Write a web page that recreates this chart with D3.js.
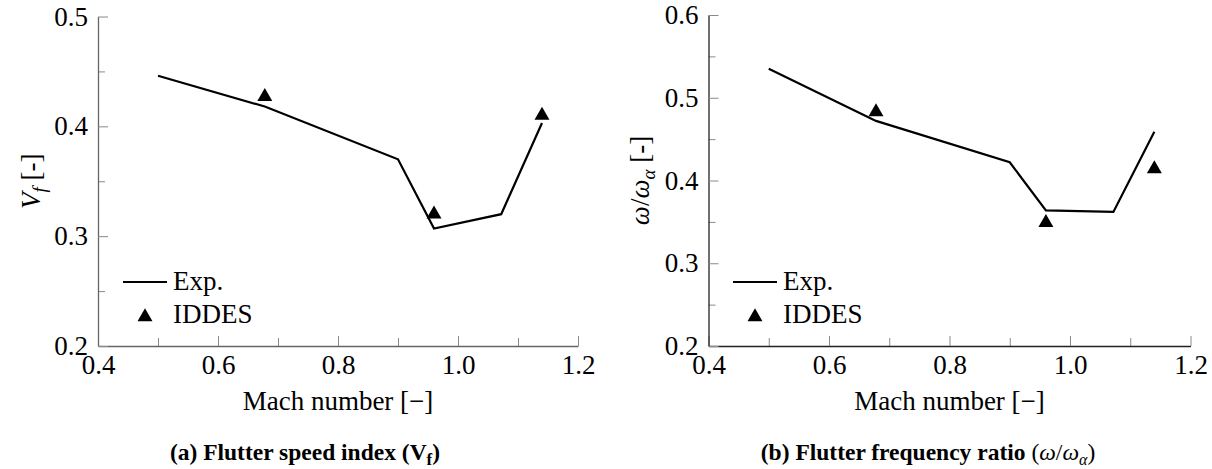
<!DOCTYPE html>
<html>
<head>
<meta charset="utf-8">
<script src="https://cdn.jsdelivr.net/npm/d3@7"></script>
<style>
  body { margin: 0; background: #fff; }
  svg { display: block; }
</style>
</head>
<body>
<div id="chart"></div>
<script>
// Mach numbers of the experiment and of the IDDES runs
var machExp = [0.5, 0.678, 0.9, 0.96, 1.072, 1.14];
var machIddes = [0.678, 0.96, 1.14];

// (a) flutter speed index
var vfExp = [0.446, 0.418, 0.370, 0.307, 0.320, 0.403];
var vfIddes = [0.427, 0.320, 0.410];

// (b) flutter frequency ratio
var freqExp = [0.535, 0.472, 0.422, 0.364, 0.362, 0.459];
var freqIddes = [0.483, 0.349, 0.414];

var xTicks = [0.4, 0.6, 0.8, 1.0, 1.2];
var xMinor = [0.5, 0.7, 0.9, 1.1];
var yTicksA = [0.2, 0.3, 0.4, 0.5];
var yMinorA = [0.25, 0.35, 0.45];
var yTicksB = [0.2, 0.3, 0.4, 0.5, 0.6];
var yMinorB = [0.25, 0.35, 0.45, 0.55];

var legendNames = ["Exp.", "IDDES"];

var width = 1212;
var height = 469;
var serif = "'Liberation Serif', 'Times New Roman', serif";
var fontSize = 27;
var capSize = 23.5;

var svg = d3.select("#chart").append("svg")
  .attr("width", width)
  .attr("height", height)
  .attr("font-family", serif);

function pairUp(xs, ys) {
  return xs.map(function(x, i) { return {m: x, v: ys[i]}; });
}

function drawPanel(opts) {
  var xScale = d3.scaleLinear().domain([0.4, 1.2]).range([opts.left, opts.right]);
  var yScale = d3.scaleLinear().domain(opts.yDomain).range([opts.bottom, opts.top]);

  var g = svg.append("g");

  /* minor ticks first, no labels */
  g.append("g")
    .attr("transform", `translate(0, ${opts.bottom})`)
    .call(d3.axisBottom(xScale).tickValues(xMinor).tickSizeInner(-8).tickSizeOuter(0).tickFormat(""))
    .call(s => s.select(".domain").remove())
    .selectAll("line").attr("stroke", "#8a8a8a").attr("stroke-width", 1);

  g.append("g")
    .attr("transform", `translate(${opts.left}, 0)`)
    .call(d3.axisLeft(yScale).tickValues(opts.yMinor).tickSizeInner(-7).tickSizeOuter(0).tickFormat(""))
    .call(s => s.select(".domain").remove())
    .selectAll("line").attr("stroke", "#8a8a8a").attr("stroke-width", 1);

  /* major axes */
  var xAxis = g.append("g")
    .attr("transform", `translate(0, ${opts.bottom})`)
    .call(d3.axisBottom(xScale).tickValues(xTicks).tickSizeInner(-10).tickSizeOuter(0)
      .tickPadding(9).tickFormat(d3.format(".1f")));

  var yAxis = g.append("g")
    .attr("transform", `translate(${opts.left}, 0)`)
    .call(d3.axisLeft(yScale).tickValues(opts.yTicks).tickSizeInner(-10).tickSizeOuter(0)
      .tickPadding(10).tickFormat(d3.format(".1f")));

  [xAxis, yAxis].forEach(function(ax) {
    ax.attr("font-family", serif).attr("font-size", fontSize);
    ax.select(".domain").attr("stroke", opts.axisColor).attr("stroke-width", 1.3);
    ax.selectAll(".tick line").attr("stroke", "#8a8a8a").attr("stroke-width", 1);
    ax.selectAll(".tick text").attr("fill", "#000");
  });

  /* experiment line */
  var line = d3.line()
    .x(d => xScale(d.m))
    .y(d => yScale(d.v));

  g.append("path")
    .datum(pairUp(machExp, opts.exp))
    .attr("d", line)
    .attr("fill", "none")
    .attr("stroke", "#000")
    .attr("stroke-width", 2.2)
    .attr("stroke-linejoin", "miter");

  /* IDDES triangles */
  var tri = d3.symbol().type(d3.symbolTriangle).size(97);
  g.selectAll(".iddes")
    .data(pairUp(machIddes, opts.iddes)).enter()
    .append("path")
    .attr("class", "iddes")
    .attr("d", tri)
    .attr("transform", d => `translate(${xScale(d.m)}, ${yScale(d.v)})`)
    .attr("fill", "#000");

  /* legend */
  var lg = g.append("g").attr("transform", `translate(${opts.legendX}, 282)`);
  lg.append("line")
    .attr("x1", 0).attr("x2", 44).attr("y1", 0).attr("y2", 0)
    .attr("stroke", "#000").attr("stroke-width", 2.2);
  lg.append("path")
    .attr("d", tri)
    .attr("transform", "translate(22, 35)")
    .attr("fill", "#000");
  lg.selectAll("text")
    .data(legendNames).enter()
    .append("text")
    .attr("x", 50)
    .attr("y", (d, i) => 8 + i * 33)
    .attr("font-size", fontSize)
    .text(d => d);

  /* x label */
  g.append("text")
    .attr("x", (opts.left + opts.right) / 2)
    .attr("y", 410)
    .attr("text-anchor", "middle")
    .attr("font-size", fontSize)
    .text("Mach number [\u2212]");

  /* y label */
  var yl = g.append("text")
    .attr("transform", `translate(${opts.yLabelX}, ${(opts.top + opts.bottom) / 2}) rotate(-90)`)
    .attr("text-anchor", "middle")
    .attr("font-size", fontSize);
  opts.yLabel(yl);

  /* caption */
  var cap = g.append("text")
    .attr("x", opts.captionX)
    .attr("y", 460)
    .attr("text-anchor", "middle")
    .attr("font-size", capSize);
  opts.caption(cap);
}

drawPanel({
  left: 98, right: 578, top: 16.5, bottom: 346,
  yDomain: [0.2, 0.5], yTicks: yTicksA, yMinor: yMinorA,
  exp: vfExp, iddes: vfIddes,
  axisColor: "#666",
  legendX: 123,
  yLabelX: 40,
  captionX: 305,
  yLabel: function(t) {
    t.append("tspan").attr("font-style", "italic").text("V");
    t.append("tspan").attr("font-style", "italic").attr("font-size", 19).attr("dy", 6).text("f");
    t.append("tspan").attr("dy", -6).text(" [-]");
  },
  caption: function(t) {
    t.attr("font-weight", "bold");
    t.append("tspan").text("(a) Flutter speed index (V");
    t.append("tspan").attr("font-size", 17).attr("dy", 5).text("f");
    t.append("tspan").attr("dy", -5).text(")");
  }
});

drawPanel({
  left: 708.5, right: 1190.5, top: 15, bottom: 346,
  yDomain: [0.2, 0.6], yTicks: yTicksB, yMinor: yMinorB,
  exp: freqExp, iddes: freqIddes,
  axisColor: "#222",
  legendX: 733,
  yLabelX: 649,
  captionX: 928,
  yLabel: function(t) {
    t.append("tspan").attr("font-style", "italic").text("\u03c9");
    t.append("tspan").text("/");
    t.append("tspan").attr("font-style", "italic").text("\u03c9");
    t.append("tspan").attr("font-style", "italic").attr("font-size", 19).attr("dy", 6).text("\u03b1");
    t.append("tspan").attr("dy", -6).text(" [-]");
  },
  caption: function(t) {
    t.append("tspan").attr("font-weight", "bold").text("(b) Flutter frequency ratio ");
    t.append("tspan").text("(");
    t.append("tspan").attr("font-style", "italic").text("\u03c9");
    t.append("tspan").text("/");
    t.append("tspan").attr("font-style", "italic").text("\u03c9");
    t.append("tspan").attr("font-style", "italic").attr("font-size", 16).attr("dy", 5).text("\u03b1");
    t.append("tspan").attr("dy", -5).text(")");
  }
});
</script>
</body>
</html>
